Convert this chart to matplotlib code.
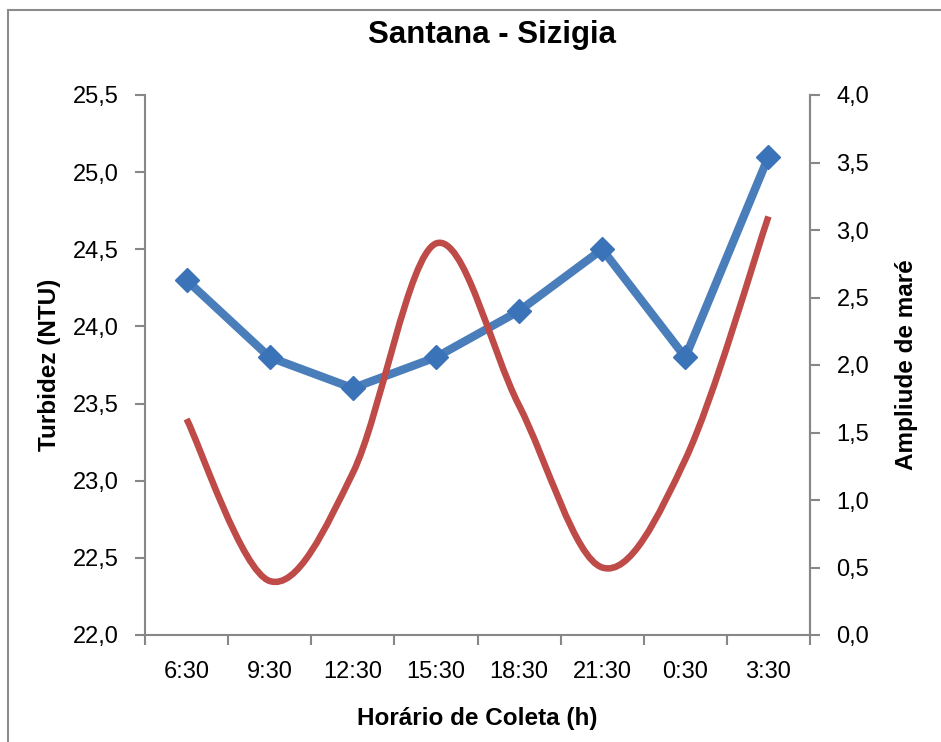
import matplotlib.pyplot as plt
from matplotlib.path import Path
from matplotlib.patches import PathPatch, Rectangle
from matplotlib.ticker import FuncFormatter, FixedLocator

plt.rcParams['font.family'] = ['Liberation Sans', 'DejaVu Sans']

horarios = ['6:30', '9:30', '12:30', '15:30', '18:30', '21:30', '0:30', '3:30']
turbidez = [24.3, 23.8, 23.6, 23.8, 24.1, 24.5, 23.8, 25.1]
mare = [1.6, 0.4, 1.2, 2.9, 1.7, 0.5, 1.3, 3.1]

azul = '#4A7EBB'
azul_marker = '#3B73B9'
vermelho = '#BE4B48'
cinza = '#878787'

fig = plt.figure(figsize=(9.41, 7.42), dpi=100)
fig.patches.append(Rectangle((8 / 941, -0.1), 1.2, (742 - 10) / 742 + 0.1,
                             transform=fig.transFigure, fill=False,
                             edgecolor='#8c8c8c', linewidth=1.5))

ax = fig.add_axes([145 / 941, 107 / 742, 665 / 941, 540 / 742])
ax2 = ax.twinx()

x = list(range(len(horarios)))

ax.plot(x, turbidez, color=azul, linewidth=6, marker='D', markersize=12,
        markerfacecolor=azul_marker, markeredgecolor=azul_marker, zorder=3)


# curva suavizada (bezier tipo catmull-rom, como no excel)
def suavizar(xs, ys):
    n = len(xs)
    verts = [(xs[0], ys[0])]
    codes = [Path.MOVETO]
    for i in range(n - 1):
        x0, y0 = (xs[i - 1], ys[i - 1]) if i > 0 else (xs[i], ys[i])
        x1, y1 = xs[i], ys[i]
        x2, y2 = xs[i + 1], ys[i + 1]
        x3, y3 = (xs[i + 2], ys[i + 2]) if i + 2 < n else (x2, y2)
        c1 = (x1 + (x2 - x0) / 6, y1 + (y2 - y0) / 6)
        c2 = (x2 - (x3 - x1) / 6, y2 - (y3 - y1) / 6)
        verts += [c1, c2, (x2, y2)]
        codes += [Path.CURVE4] * 3
    return Path(verts, codes)


ax2.add_patch(PathPatch(suavizar(x, mare), fill=False, edgecolor=vermelho,
                        linewidth=4.7, capstyle='butt', zorder=3))

ax.set_xlim(-0.5, len(horarios) - 0.5)
ax.set_ylim(22.0, 25.5)
ax2.set_ylim(0.0, 4.0)

virgula = FuncFormatter(lambda v, p: f'{v:.1f}'.replace('.', ','))
ax.yaxis.set_major_locator(FixedLocator([22 + 0.5 * i for i in range(8)]))
ax2.yaxis.set_major_locator(FixedLocator([0.5 * i for i in range(9)]))
ax.yaxis.set_major_formatter(virgula)
ax2.yaxis.set_major_formatter(virgula)

ax.set_xticks([i - 0.5 for i in range(len(horarios) + 1)])
ax.set_xticklabels([])
ax.set_xticks(x, minor=True)
ax.set_xticklabels(horarios, minor=True)
ax.tick_params(axis='x', which='major', direction='out', length=7,
               width=1.5, color=cinza)
ax.tick_params(axis='x', which='minor', length=0, pad=19, labelsize=17)
ax.tick_params(axis='y', direction='out', length=7, width=1.5, color=cinza,
               labelsize=17, pad=12)
ax2.tick_params(axis='y', direction='out', length=7, width=1.5, color=cinza,
                labelsize=17, pad=12)

for a in (ax, ax2):
    a.spines['top'].set_visible(False)
    for s in ('left', 'right', 'bottom'):
        a.spines[s].set_color(cinza)
        a.spines[s].set_linewidth(1.5)
ax2.spines['left'].set_visible(False)
ax2.spines['bottom'].set_visible(False)

ax.set_ylabel('Turbidez (NTU)', fontsize=17.5, fontweight='bold', va='center')
ax.yaxis.set_label_coords(-0.143, 0.5)
ax2.set_ylabel('Ampliude de maré', fontsize=17.5, fontweight='bold',
               va='center')
ax2.yaxis.set_label_coords(1.145, 0.5)
ax.set_xlabel('Horário de Coleta (h)', fontsize=17.5, fontweight='bold',
              va='center')
ax.xaxis.set_label_coords(0.5, -0.154)

fig.text(492 / 941, 707 / 742, 'Santana - Sizigia', fontsize=22.5,
         fontweight='bold', ha='center', va='center')

fig.savefig('out.png', dpi=100)
